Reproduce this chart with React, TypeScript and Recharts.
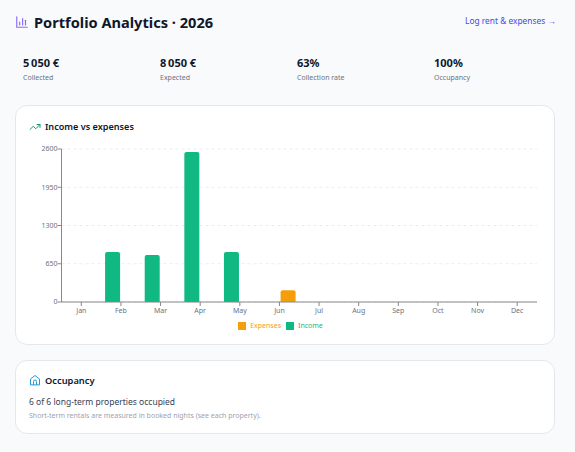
import React from 'react';
import { BarChart, Bar, XAxis, YAxis, CartesianGrid, Legend } from 'recharts';

const MONTHS = ['Jan', 'Feb', 'Mar', 'Apr', 'May', 'Jun', 'Jul', 'Aug', 'Sep', 'Oct', 'Nov', 'Dec'];
const INCOME = [0, 850, 800, 2550, 850, 0, 0, 0, 0, 0, 0, 0];
const EXPENSES = [0, 0, 0, 0, 0, 200, 0, 0, 0, 0, 0, 0];
const Y_TICKS = [0, 650, 1300, 1950, 2600];
const KPI_VALUES = ['5\u202f050 €', '8\u202f050 €', '63%', '100%'];
const KPI_LABELS = ['Collected', 'Expected', 'Collection rate', 'Occupancy'];
const KPI_LEFT = [23, 160, 297, 434];

const data = MONTHS.map((m, i) => ({ name: m, Income: INCOME[i], Expenses: EXPENSES[i] }));

const FONT = '"Noto Sans", "Open Sans", sans-serif';
const abs = (left: number, top: number): React.CSSProperties => ({ position: 'absolute', left, top, whiteSpace: 'nowrap' });
const card: React.CSSProperties = { position: 'absolute', background: '#fff', border: '1px solid #e5e7eb', borderRadius: 12, boxSizing: 'border-box' };

function Icon({ left, top, color, size, children }: { left: number; top: number; color: string; size: number; children: React.ReactNode }) {
  return (
    <svg style={{ position: 'absolute', left, top }} width={size} height={size} viewBox="0 0 24 24" fill="none" stroke={color} strokeWidth={2} strokeLinecap="round" strokeLinejoin="round">
      {children}
    </svg>
  );
}

export default function App() {
  return (
    <div style={{ position: 'absolute', left: 0, top: 0, width: 575, height: 452, overflow: 'hidden', background: '#f8fafc', fontFamily: FONT, color: '#0f172a' }}>
      <style>{'.recharts-legend-item { margin-right: 5px !important; }'}</style>
      <Icon left={15} top={15} color="#8b6cff" size={14}>
        <path d="M3 3v18h18" />
        <path d="M8 17v-5" />
        <path d="M13 17V6" />
        <path d="M18 17v-8" />
      </Icon>
      <div style={{ ...abs(34, 11), fontSize: 14.6, fontWeight: 700, lineHeight: '22px' }}>Portfolio Analytics · 2026</div>
      <div style={{ ...abs(465, 13), fontSize: 8.4, lineHeight: '15px', color: '#4f46e5' }}>Log rent &amp; expenses →</div>

      {KPI_VALUES.map((v, i) => (
        <div key={v} style={{ ...abs(KPI_LEFT[i], 55), fontSize: 11, fontWeight: 700, lineHeight: '16px' }}>{v}</div>
      ))}
      {KPI_LABELS.map((l, i) => (
        <div key={l} style={{ ...abs(KPI_LEFT[i], 72), fontSize: 7, lineHeight: '12px', color: '#6b7280' }}>{l}</div>
      ))}

      <div style={{ ...card, left: 15, top: 105, width: 540, height: 240 }} />
      <Icon left={29} top={121} color="#10a070" size={12}>
        <path d="M22 7l-8.5 8.5-5-5L2 17" />
        <path d="M16 7h6v6" />
      </Icon>
      <div style={{ ...abs(45, 119), fontSize: 9.1, fontWeight: 600, lineHeight: '15px' }}>Income vs expenses</div>

      <div style={{ position: 'absolute', left: 29, top: 141 }}>
        <BarChart width={512} height={195} data={data} barGap={2} margin={{ top: 8, right: 4, bottom: 0, left: 0 }}>
          <CartesianGrid strokeDasharray="3 3" stroke="#e9edf2" vertical={false} />
          <XAxis dataKey="name" height={20} tickSize={4} tick={{ fill: '#6b7280', fontSize: 7 }} stroke="#888" />
          <YAxis width={32.5} domain={[0, 2600]} ticks={Y_TICKS} tickSize={4} tickMargin={0} tick={{ fill: '#6b7280', fontSize: 7 }} stroke="#888" />
          <Legend iconType="square" iconSize={8} height={14} wrapperStyle={{ fontSize: 7, bottom: 1 }} />
          <Bar dataKey="Income" fill="#10b981" radius={[2, 2, 0, 0]} isAnimationActive={false} />
          <Bar dataKey="Expenses" fill="#f59e0b" radius={[2, 2, 0, 0]} isAnimationActive={false} />
        </BarChart>
      </div>

      <div style={{ ...card, left: 15, top: 360, width: 540, height: 74 }} />
      <Icon left={29} top={374} color="#1d9bd8" size={12}>
        <path d="M3 21V10l9-7 9 7v11z" />
        <path d="M9 21v-6a3 3 0 0 1 6 0v6" />
      </Icon>
      <div style={{ ...abs(45, 373), fontSize: 9.3, fontWeight: 600, lineHeight: '15px' }}>Occupancy</div>
      <div style={{ ...abs(29, 395), fontSize: 8.5, lineHeight: '13px', color: '#374151' }}>6 of 6 long-term properties occupied</div>
      <div style={{ ...abs(29, 410), fontSize: 7, lineHeight: '12px', color: '#9ca3af' }}>Short-term rentals are measured in booked nights (see each property).</div>
    </div>
  );
}
